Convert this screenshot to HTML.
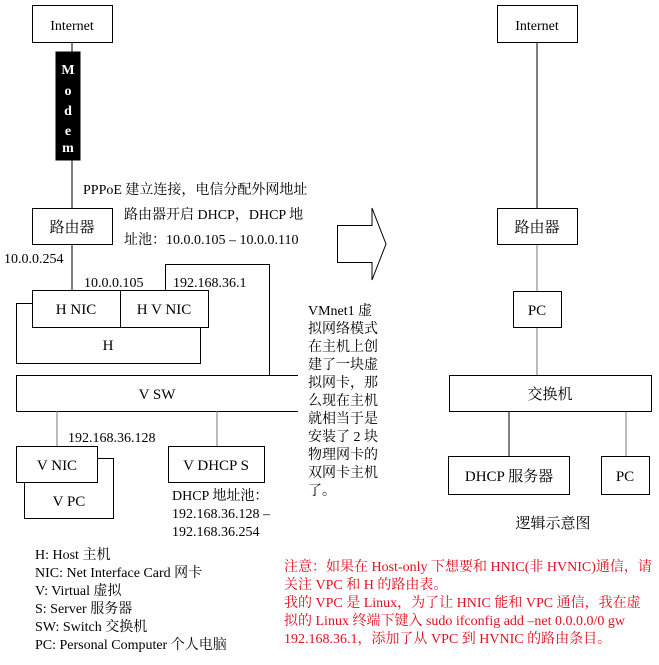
<!DOCTYPE html>
<html><head><meta charset="utf-8"><style>
body{margin:0;background:#fff}
svg text{font-family:"Liberation Serif","Noto Serif CJK SC",serif;font-size:14px;fill:#000}
.c{text-anchor:middle}
.r{fill:#e01020 !important}
</style></head><body>
<svg width="659" height="660" xmlns="http://www.w3.org/2000/svg">
<g fill="#fff" stroke="#000" stroke-width="1">
<line x1="72" y1="42" x2="72" y2="208"/>
<line x1="72" y1="244" x2="72" y2="290"/>
<rect x="32.5" y="5.5" width="80" height="37"/>
<rect x="56" y="52" width="24" height="108" fill="#000"/>
<rect x="32.5" y="208.5" width="80" height="36"/>
<path d="M165.5 290V264.5H269.5V375" fill="none"/>
<rect x="16.5" y="303.5" width="184" height="60"/>
<rect x="32.5" y="290.5" width="88" height="37"/>
<rect x="120.5" y="290.5" width="88" height="37"/>
<path d="M298 375.5H16.5V411.5H298" fill="none"/>
<line x1="57" y1="411" x2="57" y2="446" stroke="#777"/>
<line x1="217" y1="411" x2="217" y2="446" stroke="#777"/>
<rect x="24.5" y="458.5" width="89" height="60"/>
<rect x="16.5" y="446.5" width="81" height="36"/>
<rect x="168.5" y="446.5" width="96" height="36"/>
<path d="M337.5 225.5H372V208L386 244L372 280V262.5H337.5Z"/>
<line x1="537" y1="42" x2="537" y2="208"/>
<line x1="537" y1="244" x2="537" y2="375" stroke="#777"/>
<line x1="509" y1="411" x2="509" y2="456"/>
<line x1="626" y1="411" x2="626" y2="456" stroke="#777"/>
<rect x="497.5" y="5.5" width="80" height="37"/>
<rect x="497.5" y="208.5" width="80" height="36"/>
<rect x="513.5" y="291.5" width="48" height="36"/>
<rect x="449.5" y="375.5" width="202" height="36"/>
<rect x="448.5" y="456.5" width="121" height="38"/>
<rect x="601.5" y="456.5" width="48" height="38"/>
</g>
<text x="72" y="30" class="c">Internet</text>
<text x="68" y="74" class="c" style="fill:#fff;font-weight:bold">M</text>
<text x="68" y="95" class="c" style="fill:#fff;font-weight:bold">o</text>
<text x="68" y="115" class="c" style="fill:#fff;font-weight:bold">d</text>
<text x="68" y="135" class="c" style="fill:#fff;font-weight:bold">e</text>
<text x="68" y="152" class="c" style="fill:#fff;font-weight:bold">m</text>
<text x="83" y="194">PPPoE 建立连接，电信分配外网地址</text>
<text x="124" y="219">路由器开启 DHCP，DHCP 地</text>
<text x="124" y="244">址池：10.0.0.105 – 10.0.0.110</text>
<text x="72" y="232" class="c" style="font-size:15px">路由器</text>
<text x="4" y="263">10.0.0.254</text>
<text x="84" y="287">10.0.0.105</text>
<text x="173" y="287">192.168.36.1</text>
<text x="76" y="314" class="c" style="font-size:15px">H NIC</text>
<text x="164" y="314" class="c" style="font-size:15px">H V NIC</text>
<text x="108" y="350" class="c" style="font-size:15px">H</text>
<text x="157" y="399" class="c" style="font-size:15px">V SW</text>
<text x="68" y="442">192.168.36.128</text>
<text x="57" y="470" class="c" style="font-size:15px">V NIC</text>
<text x="69" y="506" class="c" style="font-size:15px">V PC</text>
<text x="216" y="470" class="c" style="font-size:15px">V DHCP S</text>
<text x="172" y="500">DHCP 地址池：</text>
<text x="172" y="518">192.168.36.128 –</text>
<text x="172" y="536">192.168.36.254</text>
<text x="308" y="315">VMnet1 虚</text>
<text x="308" y="333">拟网络模式</text>
<text x="308" y="351">在主机上创</text>
<text x="308" y="369">建了一块虚</text>
<text x="308" y="387">拟网卡，那</text>
<text x="308" y="405">么现在主机</text>
<text x="308" y="423">就相当于是</text>
<text x="308" y="441">安装了 2 块</text>
<text x="308" y="459">物理网卡的</text>
<text x="308" y="477">双网卡主机</text>
<text x="308" y="495">了。</text>
<text x="537" y="30" class="c">Internet</text>
<text x="537" y="232" class="c" style="font-size:15px">路由器</text>
<text x="537" y="315" class="c" style="font-size:15px">PC</text>
<text x="550" y="399" class="c" style="font-size:15px">交换机</text>
<text x="509" y="481" class="c" style="font-size:15px">DHCP 服务器</text>
<text x="625" y="481" class="c" style="font-size:15px">PC</text>
<text x="553" y="528" class="c" style="font-size:15px">逻辑示意图</text>
<text x="35" y="559">H: Host  主机</text>
<text x="35" y="577">NIC: Net Interface Card  网卡</text>
<text x="35" y="595">V: Virtual  虚拟</text>
<text x="35" y="613">S: Server  服务器</text>
<text x="35" y="631">SW: Switch  交换机</text>
<text x="35" y="649">PC: Personal Computer  个人电脑</text>
<text x="284" y="571" class="r">注意：如果在 Host-only 下想要和 HNIC(非 HVNIC)通信，请</text>
<text x="284" y="589" class="r">关注 VPC 和 H 的路由表。</text>
<text x="284" y="607" class="r">我的 VPC 是 Linux，为了让 HNIC 能和 VPC 通信，我在虚</text>
<text x="284" y="625" class="r">拟的 Linux 终端下键入 sudo ifconfig add –net 0.0.0.0/0 gw</text>
<text x="284" y="643" class="r">192.168.36.1，添加了从 VPC 到 HVNIC 的路由条目。</text>
</svg>
</body></html>
